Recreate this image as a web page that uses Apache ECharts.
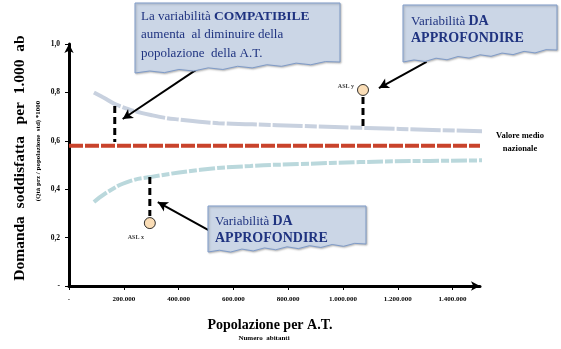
<!DOCTYPE html>
<html>
<head>
<meta charset="utf-8">
<script src="https://cdn.jsdelivr.net/npm/echarts@6/dist/echarts.min.js"></script>
<style>html,body{margin:0;padding:0;background:#fff}#c{width:561px;height:349px}</style>
</head>
<body>
<div id="c"></div>
<script>
// ---- data ----
var xTicks = [0, 200000, 400000, 600000, 800000, 1000000, 1200000, 1400000];
var yTicks = [0, 0.2, 0.4, 0.6, 0.8, 1.0];
var upperPop = [91000, 124000, 182000, 305000, 425000, 545000, 669000, 851000, 1087000, 1327000, 1618000];
var upperVal = [0.80, 0.78, 0.745, 0.705, 0.685, 0.673, 0.668, 0.661, 0.653, 0.645, 0.636];
var lowerPop = [91000, 153000, 225000, 295000, 480000, 662000, 844000, 1062000, 1316000, 1607000];
var lowerVal = [0.347, 0.397, 0.434, 0.45, 0.48, 0.496, 0.504, 0.512, 0.517, 0.52];
var meanPop = [0, 1500000];
var meanVal = [0.58, 0.58];
var aslNames = ['ASL y', 'ASL x'];
var aslPop = [1073000, 295000];
var aslVal = [0.81, 0.26];
// dashed connectors: [pop, from, to]
var connPop = [167000, 1073000, 295000];
var connFrom = [0.744, 0.781, 0.45];
var connTo = [0.595, 0.653, 0.289];
// arrows: start -> tip
var arrowFromPop = [473000, 1305000, 509000];
var arrowFromVal = [0.90, 0.926, 0.231];
var arrowToPop = [196000, 1131000, 324000];
var arrowToVal = [0.69, 0.818, 0.347];

function zip(a, b) { return a.map(function (v, i) { return [v, b[i]]; }); }
function fmtX(v) { return v === 0 ? '-' : String(v).replace(/\B(?=(\d{3})+(?!\d))/g, '.'); }
function fmtY(v) { return v === 0 ? '-' : v.toFixed(1).replace('.', ','); }

var serif = '"Liberation Serif", "DejaVu Serif", serif';
var navy = '#1f3380';
var boxFill = '#cbd6e6';
var boxStroke = '#7f9bc8';

var series = [
  { type: 'line', data: zip(upperPop, upperVal), smooth: true, symbol: 'none', clip: false,
    lineStyle: { color: '#c8d1df', width: 4, type: [30, 2, 12, 2] }, z: 2 },
  { type: 'line', data: zip(lowerPop, lowerVal), smooth: true, symbol: 'none', clip: false,
    lineStyle: { color: '#bad8dc', width: 4, type: [16, 2, 8, 2] }, z: 2 },
  { type: 'line', data: zip(meanPop, meanVal), symbol: 'none', clip: false,
    lineStyle: { color: '#c9432b', width: 4, type: [14, 2] }, z: 3 }
];
connPop.forEach(function (p, i) {
  series.push({ type: 'line', data: [[p, connFrom[i]], [p, connTo[i]]], symbol: 'none',
    lineStyle: { color: '#000', width: 3, type: [7, 4] }, z: 4 });
});
series.push({
  type: 'line', data: [], symbol: 'none',
  markLine: {
    silent: true, symbol: ['none', 'arrow'], symbolSize: [8, 10],
    label: { show: false },
    lineStyle: { color: '#000', width: 2, type: 'solid' },
    data: arrowFromPop.map(function (p, i) {
      return [{ coord: [p, arrowFromVal[i]] }, { coord: [arrowToPop[i], arrowToVal[i]] }];
    })
  }, z: 5
});
series.push({
  type: 'scatter', symbolSize: 11, z: 6,
  itemStyle: { color: '#f9d4a4', borderColor: '#000', borderWidth: 1 },
  data: aslNames.map(function (n, i) {
    return {
      name: n, value: [aslPop[i], aslVal[i]],
      label: {
        show: true, formatter: n, fontFamily: serif, fontSize: 6, fontWeight: 'bold', color: '#000',
        position: i === 0 ? 'left' : 'bottom',
        offset: i === 0 ? [2, -4] : [-14, 0]
      }
    };
  })
});

function wavyBox(x0, y0, x1, yRight, yLeft, amp) {
  var pts = [[x0, y0], [x1, y0], [x1, yRight]];
  var n = 14;
  for (var k = 1; k < n; k++) {
    var t = k / n;
    var x = x1 - (x1 - x0) * t;
    var y = yRight + (yLeft - yRight) * t + (k % 2 ? -amp : amp) * 0.6;
    pts.push([x, y]);
  }
  pts.push([x0, yLeft]);
  return pts;
}

var chart = echarts.init(document.getElementById('c'), null, { renderer: 'canvas' });
chart.setOption({
  animation: false,
  grid: { left: 69, right: 81, top: 44, bottom: 63 },
  xAxis: {
    type: 'value', min: 0, max: 1500000, interval: 200000,
    splitLine: { show: false },
    axisLine: { lineStyle: { color: '#000', width: 3 }, symbol: ['none', 'arrow'], symbolSize: [7, 9] },
    axisTick: { lineStyle: { color: '#000', width: 1 }, length: 4 },
    axisLabel: { formatter: fmtX, showMaxLabel: false, margin: 10, fontFamily: serif, fontSize: 7, fontWeight: 'bold', color: '#000' }
  },
  yAxis: {
    type: 'value', min: 0, max: 1, interval: 0.2,
    splitLine: { show: false },
    axisLine: { lineStyle: { color: '#000', width: 3 }, symbol: ['none', 'arrow'], symbolSize: [7, 9] },
    axisTick: { lineStyle: { color: '#000', width: 1 }, length: 4 },
    axisLabel: { formatter: fmtY, margin: 9, fontFamily: serif, fontSize: 7.5, fontWeight: 'bold', color: '#000' }
  },
  series: series,
  graphic: [
    { type: 'text', x: 20, y: 158, rotation: Math.PI / 2, z: 10,
      style: { text: 'Domanda  soddisfatta   per  1.000  ab', font: 'bold 15.5px ' + serif, fill: '#000', textAlign: 'center', textVerticalAlign: 'middle' } },
    { type: 'text', x: 38, y: 151, rotation: Math.PI / 2, z: 10,
      style: { text: '(Qtà prz / popolazione  std) *1000', font: 'bold 7px ' + serif, fill: '#000', textAlign: 'center', textVerticalAlign: 'middle' } },
    { type: 'text', x: 270, y: 325, z: 10,
      style: { text: 'Popolazione per A.T.', font: 'bold 14px ' + serif, fill: '#000', textAlign: 'center', textVerticalAlign: 'middle' } },
    { type: 'text', x: 264, y: 338, z: 10,
      style: { text: 'Numero  abitanti', font: 'bold 7px ' + serif, fill: '#000', textAlign: 'center', textVerticalAlign: 'middle' } },
    { type: 'text', x: 520, y: 142, z: 10,
      style: { text: 'Valore medio\nnazionale', font: 'bold 8.5px ' + serif, lineHeight: 13, fill: '#000', textAlign: 'center', textVerticalAlign: 'middle' } },
    // box 1
    { type: 'polygon', z: 8, shape: { points: wavyBox(135, 3, 340, 62, 73, 2) },
      style: { fill: boxFill, stroke: boxStroke, lineWidth: 1, shadowColor: 'rgba(0,0,0,0.25)', shadowBlur: 2, shadowOffsetX: 1, shadowOffsetY: 1 } },
    { type: 'text', x: 141, y: 7, z: 9,
      style: { text: 'La variabilità {b|COMPATIBILE}\naumenta  al diminuire della\npopolazione  della A.T.',
        font: '13px ' + serif, fill: navy, lineHeight: 18.5,
        rich: { b: { fontFamily: serif, fontSize: 13.5, fontWeight: 'bold', fill: navy, lineHeight: 18.5 } } } },
    // box 2
    { type: 'polygon', z: 8, shape: { points: wavyBox(403, 5, 557, 50, 62, 2) },
      style: { fill: boxFill, stroke: boxStroke, lineWidth: 1, shadowColor: 'rgba(0,0,0,0.25)', shadowBlur: 2, shadowOffsetX: 1, shadowOffsetY: 1 } },
    { type: 'text', x: 411, y: 13, z: 9,
      style: { text: 'Variabilità {b|DA}\n{b|APPROFONDIRE}', font: '13px ' + serif, fill: navy, lineHeight: 17,
        rich: { b: { fontFamily: serif, fontSize: 14, fontWeight: 'bold', fill: navy, lineHeight: 17 } } } },
    // box 3
    { type: 'polygon', z: 8, shape: { points: wavyBox(208, 206, 366, 244, 252, 2) },
      style: { fill: boxFill, stroke: boxStroke, lineWidth: 1, shadowColor: 'rgba(0,0,0,0.25)', shadowBlur: 2, shadowOffsetX: 1, shadowOffsetY: 1 } },
    { type: 'text', x: 215, y: 213, z: 9,
      style: { text: 'Variabilità {b|DA}\n{b|APPROFONDIRE}', font: '13px ' + serif, fill: navy, lineHeight: 17,
        rich: { b: { fontFamily: serif, fontSize: 14, fontWeight: 'bold', fill: navy, lineHeight: 17 } } } }
  ]
});
</script>
</body>
</html>
